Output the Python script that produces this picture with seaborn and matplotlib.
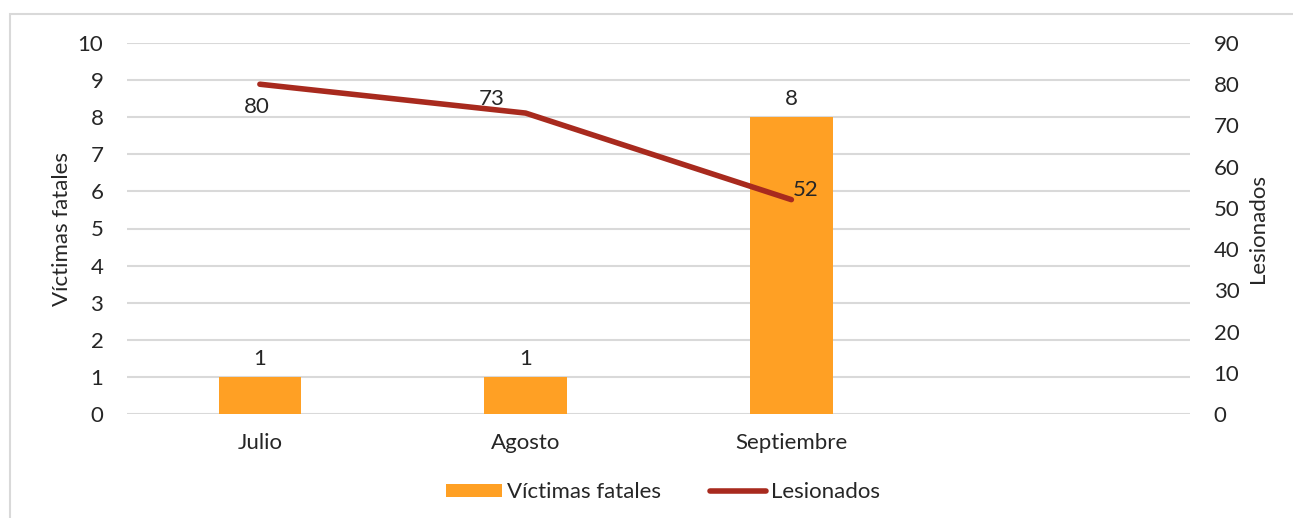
import numpy as np
import matplotlib.pyplot as plt
import seaborn as sns
from matplotlib.patches import Rectangle, Patch
from matplotlib.lines import Line2D

meses = ["Julio", "Agosto", "Septiembre"]
victimas_fatales = [1, 1, 8]
lesionados = [80, 73, 52]

bar_color = "#FFA024"
line_color = "#A82A1E"
grid_color = "#D9D9D9"

sns.set_style("white")
plt.rcParams["font.family"] = ["Lato", "DejaVu Sans"]
fs = 16

fig = plt.figure(figsize=(12.93, 5.18), dpi=100)
ax = fig.add_axes([127 / 1293, 1 - 414 / 518, (1190 - 127) / 1293, (414 - 43) / 518])

# outer chart frame
fig.patches.append(Rectangle((10 / 1293, -0.1), 1.2, 1.1 - 14 / 518, transform=fig.transFigure,
                             fill=False, edgecolor=grid_color, linewidth=1.5, zorder=0))

sns.barplot(x=meses, y=victimas_fatales, color=bar_color, width=0.31, saturation=1,
            linewidth=0, ax=ax)
ax.set_xlim(-0.5, 3.5)
ax.set_ylim(0, 10)
ax.set_yticks(range(0, 11))
ax.yaxis.grid(True, color=grid_color, linewidth=1.5)
ax.set_axisbelow(True)
ax.set_ylabel("Víctimas fatales", fontsize=fs, labelpad=4)
ax.tick_params(axis="both", length=0, labelsize=fs)
ax.tick_params(axis="y", pad=17)
ax.tick_params(axis="x", pad=14)
for s in ax.spines.values():
    s.set_visible(False)

for i, v in enumerate(victimas_fatales):
    ax.annotate(str(v), xy=(i, v), xytext=(0, 6), textcoords="offset points",
                ha="center", va="bottom", fontsize=fs)

ax2 = ax.twinx()
sns.lineplot(x=np.arange(len(meses)), y=lesionados, color=line_color, linewidth=4,
             solid_capstyle="round", ax=ax2)
ax2.set_ylim(0, 90)
ax2.set_yticks(range(0, 91, 10))
ax2.set_ylabel("Lesionados", fontsize=fs, labelpad=6)
ax2.tick_params(axis="y", length=0, labelsize=fs, pad=17)
for s in ax2.spines.values():
    s.set_visible(False)

label_offsets = [(-2, -9, "center", "top"), (-34, 3, "left", "bottom"), (1, 7, "left", "center")]
for i, v in enumerate(lesionados):
    dx, dy, ha, va = label_offsets[i]
    ax2.annotate(str(v), xy=(i, v), xytext=(dx, dy), textcoords="offset points",
                 ha=ha, va=va, fontsize=fs)

handles = [Patch(facecolor=bar_color, linewidth=0, label="Víctimas fatales"),
           Line2D([0], [0], color=line_color, linewidth=4, solid_capstyle="round", label="Lesionados")]
fig.legend(handles=handles, loc="center", bbox_to_anchor=(0.513, 0.05), ncol=2, frameon=False,
           fontsize=fs, handlelength=2.5, handleheight=0.5, handletextpad=0.25, columnspacing=2.2)

fig.savefig("out.png", dpi=100)
